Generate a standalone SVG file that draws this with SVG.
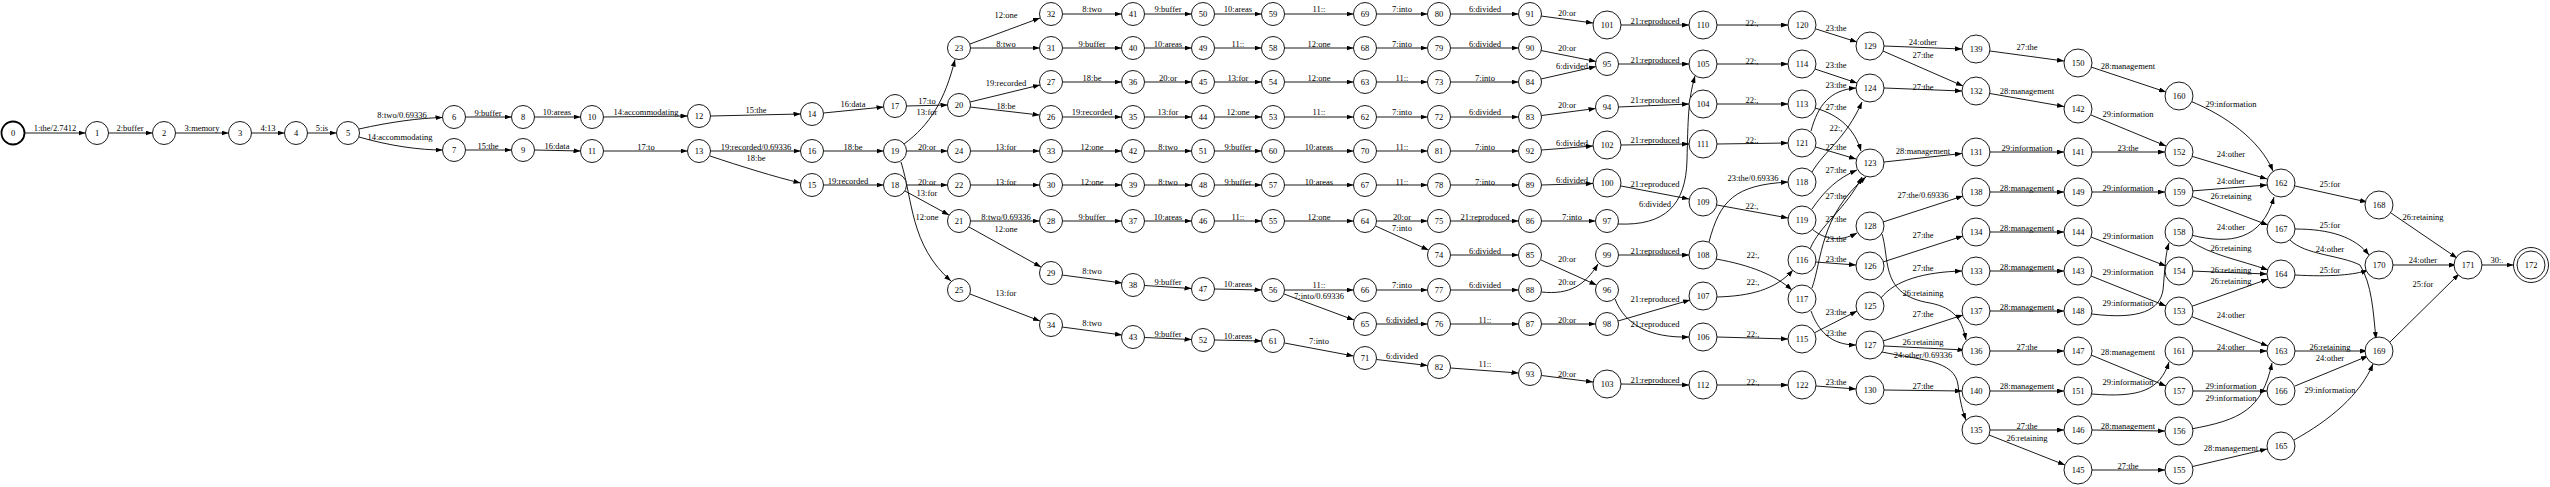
<svg xmlns="http://www.w3.org/2000/svg" width="2550" height="487" viewBox="0 0 2550 487">
<defs>
<marker id="a" markerUnits="userSpaceOnUse" markerWidth="7" markerHeight="5" refX="7" refY="2.5" orient="auto"><path d="M0,0 L7,2.5 L0,5 z" fill="#000"/></marker>
<style>
.e path{fill:none;stroke:#000;stroke-width:0.9;marker-end:url(#a)}
text{font-family:"Liberation Serif","Times New Roman",serif;font-size:8.5px;text-anchor:middle;fill:#000}
.n circle{fill:#fff;stroke:#000;stroke-width:0.9}
</style>
</defs>
<rect width="2550" height="487" fill="#fff"/>
<g id="connectors" class="e">
<path d="M24.5,133 L85.5,133"/><text x="55" y="131">1:the/2.7412</text>
<path d="M108.5,133 L152.5,133"/><text x="130" y="131">2:buffer</text>
<path d="M175.5,133 L228.5,133"/><text x="202" y="131">3:memory</text>
<path d="M251.5,133 L284.5,133"/><text x="268" y="131">4:13</text>
<path d="M307.5,133 L336.5,133"/><text x="322" y="131">5:is</text>
<path d="M359,129 C390,122 420,118 442.5,117.5"/><text x="402" y="118">8:two/0.69336</text>
<path d="M359,137 C390,146 420,150 442.5,150"/><text x="400" y="140">14:accommodating</text>
<path d="M465.5,117 L511.5,117"/><text x="488" y="116">9:buffer</text>
<path d="M465.5,150 L511.5,150"/><text x="488" y="149">15:the</text>
<path d="M534.5,117 L580.5,117"/><text x="557" y="115">10:areas</text>
<path d="M534.5,150 L580.5,151"/><text x="557" y="149">16:data</text>
<path d="M603.5,117 L687.5,116"/><text x="646" y="115">14:accommodating</text>
<path d="M603.5,151 L687.5,151"/><text x="646" y="150">17:to</text>
<path d="M710.5,116 L800.5,114"/><text x="756" y="113">15:the</text>
<path d="M710.5,151 L800.5,151"/><text x="756" y="150">19:recorded/0.69336</text>
<path d="M710,156 C740,166 775,177 800.5,183"/><text x="756" y="161">18:be</text>
<path d="M823.5,113 L883.5,107"/><text x="853" y="107">16:data</text>
<path d="M823.5,151 L883.5,151"/><text x="853" y="150">18:be</text>
<path d="M823.5,185 L883.5,185"/><text x="848" y="184">19:recorded</text>
<path d="M906.5,106 L947.5,105"/><text x="927" y="104">17:to</text>
<path d="M904,144 C930,125 945,100 955,59.5"/><text x="927" y="115">13:for</text>
<path d="M906.5,151 L947.5,151"/><text x="927" y="150">20:or</text>
<path d="M901,162 C913,200 910,245 951,281"/><text x="927" y="220">12:one</text>
<path d="M906.5,185 L947.5,185"/><text x="927" y="185">20:or</text>
<path d="M905,191 L949,215"/><text x="927" y="196">13:for</text>
<path d="M970,44 L1040,18"/><text x="1006" y="18">12:one</text>
<path d="M970.5,48 L1039.5,48"/><text x="1006" y="47">8:two</text>
<path d="M970,102 L1040,85"/><text x="1006" y="86">19:recorded</text>
<path d="M970,107 L1039.5,115"/><text x="1006" y="109">18:be</text>
<path d="M970.5,151 L1039.5,151"/><text x="1006" y="150">13:for</text>
<path d="M970.5,185 L1039.5,185"/><text x="1006" y="185">13:for</text>
<path d="M970.5,221 L1039.5,221"/><text x="1006" y="220">8:two/0.69336</text>
<path d="M969,227 L1041,267"/><text x="1006" y="232">12:one</text>
<path d="M970,294 L1040,321"/><text x="1006" y="296">13:for</text>
<path d="M1062.5,14 L1121.5,14"/><text x="1092" y="12">8:two</text>
<path d="M1062.5,48 L1121.5,48"/><text x="1092" y="47">9:buffer</text>
<path d="M1062.5,82 L1121.5,82"/><text x="1092" y="81">18:be</text>
<path d="M1062.5,117 L1121.5,117"/><text x="1092" y="115">19:recorded</text>
<path d="M1062.5,151 L1121.5,151"/><text x="1092" y="150">12:one</text>
<path d="M1062.5,185 L1121.5,185"/><text x="1092" y="185">12:one</text>
<path d="M1062.5,221 L1121.5,221"/><text x="1092" y="220">9:buffer</text>
<path d="M1062,275 L1122,283"/><text x="1092" y="274">8:two</text>
<path d="M1062,327 L1122,335"/><text x="1092" y="326">8:two</text>
<path d="M1144.5,14 L1191.5,14"/><text x="1168" y="12">9:buffer</text>
<path d="M1144.5,48 L1191.5,48"/><text x="1168" y="47">10:areas</text>
<path d="M1144.5,82 L1191.5,82"/><text x="1168" y="81">20:or</text>
<path d="M1144.5,117 L1191.5,117"/><text x="1168" y="115">13:for</text>
<path d="M1144.5,151 L1191.5,151"/><text x="1168" y="150">8:two</text>
<path d="M1144.5,185 L1191.5,185"/><text x="1168" y="185">8:two</text>
<path d="M1144.5,221 L1191.5,221"/><text x="1168" y="220">10:areas</text>
<path d="M1144.5,285.5 L1191.5,288.5"/><text x="1168" y="285">9:buffer</text>
<path d="M1144.5,337.5 L1191.5,339.5"/><text x="1168" y="337">9:buffer</text>
<path d="M1214.5,14 L1261.5,14"/><text x="1238" y="12">10:areas</text>
<path d="M1214.5,48 L1261.5,48"/><text x="1238" y="47">11::</text>
<path d="M1214.5,82 L1261.5,82"/><text x="1238" y="81">13:for</text>
<path d="M1214.5,117 L1261.5,117"/><text x="1238" y="115">12:one</text>
<path d="M1214.5,151 L1261.5,151"/><text x="1238" y="150">9:buffer</text>
<path d="M1214.5,185 L1261.5,185"/><text x="1238" y="185">9:buffer</text>
<path d="M1214.5,221 L1261.5,221"/><text x="1238" y="220">11::</text>
<path d="M1214.5,289 L1261.5,290"/><text x="1238" y="287">10:areas</text>
<path d="M1214.5,340 L1261.5,341"/><text x="1238" y="339">10:areas</text>
<path d="M1284.5,14 L1353.5,14"/><text x="1319" y="12">11::</text>
<path d="M1284.5,48 L1353.5,48"/><text x="1319" y="47">12:one</text>
<path d="M1284.5,82 L1353.5,82"/><text x="1319" y="81">12:one</text>
<path d="M1284.5,117 L1353.5,117"/><text x="1319" y="115">11::</text>
<path d="M1284.5,151 L1353.5,151"/><text x="1319" y="150">10:areas</text>
<path d="M1284.5,185 L1353.5,185"/><text x="1319" y="185">10:areas</text>
<path d="M1284.5,221 L1353.5,221"/><text x="1319" y="220">12:one</text>
<path d="M1284.5,290 L1353.5,290"/><text x="1319" y="288">11::</text>
<path d="M1284,294 L1354,320"/><text x="1319" y="299">7:into/0.69336</text>
<path d="M1284.5,343 L1353.5,356"/><text x="1319" y="344">7:into</text>
<path d="M1376.5,14 L1427.5,14"/><text x="1402" y="12">7:into</text>
<path d="M1376.5,48 L1427.5,48"/><text x="1402" y="47">7:into</text>
<path d="M1376.5,82 L1427.5,82"/><text x="1402" y="81">11::</text>
<path d="M1376.5,117 L1427.5,117"/><text x="1402" y="115">7:into</text>
<path d="M1376.5,151 L1427.5,151"/><text x="1402" y="150">11::</text>
<path d="M1376.5,185 L1427.5,185"/><text x="1402" y="185">11::</text>
<path d="M1376.5,221 L1427.5,221"/><text x="1402" y="220">20:or</text>
<path d="M1375.5,226 L1428.5,250"/><text x="1402" y="231">7:into</text>
<path d="M1376.5,290 L1427.5,290"/><text x="1402" y="288">7:into</text>
<path d="M1376.5,324 L1427.5,324"/><text x="1402" y="323">6:divided</text>
<path d="M1376.5,359.5 L1427.5,365.5"/><text x="1402" y="359">6:divided</text>
<path d="M1450.5,14 L1518.5,14"/><text x="1485" y="12">6:divided</text>
<path d="M1450.5,48 L1518.5,48"/><text x="1485" y="47">6:divided</text>
<path d="M1450.5,82 L1518.5,82"/><text x="1485" y="81">7:into</text>
<path d="M1450.5,117 L1518.5,117"/><text x="1485" y="115">6:divided</text>
<path d="M1450.5,151 L1518.5,151"/><text x="1485" y="150">7:into</text>
<path d="M1450.5,185 L1518.5,185"/><text x="1485" y="185">7:into</text>
<path d="M1450.5,221 L1518.5,221"/><text x="1485" y="220">21:reproduced</text>
<path d="M1450.5,255 L1518.5,255"/><text x="1485" y="254">6:divided</text>
<path d="M1450.5,290 L1518.5,290"/><text x="1485" y="288">6:divided</text>
<path d="M1450.5,324 L1518.5,324"/><text x="1485" y="323">11::</text>
<path d="M1450.5,368 L1518.5,373"/><text x="1485" y="367">11::</text>
<path d="M1541,16 L1593,23"/><text x="1567" y="16">20:or</text>
<path d="M1541,50.5 L1596,61.5"/><text x="1567" y="51">20:or</text>
<path d="M1541,79 L1596,66.5"/><text x="1572" y="69">6:divided</text>
<path d="M1541.5,115.5 L1595.5,108.5"/><text x="1567" y="108">20:or</text>
<path d="M1541.5,150 L1593,146"/><text x="1572" y="146">6:divided</text>
<path d="M1541.5,185 L1593,183.5"/><text x="1572" y="183">6:divided</text>
<path d="M1541.5,221 L1595.5,221"/><text x="1572" y="220">7:into</text>
<path d="M1541,260 L1596.5,285"/><text x="1567" y="262">20:or</text>
<path d="M1541.5,292 C1570,295 1585,285 1598,264"/><text x="1567" y="285">20:or</text>
<path d="M1541.5,324 L1595.5,324"/><text x="1567" y="323">20:or</text>
<path d="M1541.5,375.5 L1593,382"/><text x="1567" y="377">20:or</text>
<path d="M1621,25 L1689,25"/><text x="1655" y="24">21:reproduced</text>
<path d="M1618.5,64 L1689,64"/><text x="1655" y="63">21:reproduced</text>
<path d="M1618.5,107 L1689,104"/><text x="1655" y="103">21:reproduced</text>
<path d="M1621,145 L1689,144"/><text x="1655" y="143">21:reproduced</text>
<path d="M1621,186 L1689,199"/><text x="1655" y="187">21:reproduced</text>
<path d="M1618,224 C1665,226 1686,205 1687,160 C1688,120 1688,100 1695,76"/><text x="1655" y="207">6:divided</text>
<path d="M1618.5,255 L1689,255"/><text x="1655" y="254">21:reproduced</text>
<path d="M1618,321 L1690,300"/><text x="1655" y="302">21:reproduced</text>
<path d="M1615,299 C1625,325 1650,338 1689,337"/><text x="1655" y="327">21:reproduced</text>
<path d="M1621,384 L1689,385"/><text x="1655" y="383">21:reproduced</text>
<path d="M1717,25 L1788,25"/><text x="1752" y="26">22:,</text>
<path d="M1717,64 L1788,64"/><text x="1752" y="64">22:,</text>
<path d="M1717,104 L1788,104"/><text x="1752" y="103">22:,</text>
<path d="M1717,144 L1788,143"/><text x="1752" y="143">22:,</text>
<path d="M1717,205 L1788,218"/><text x="1752" y="209">22:,</text>
<path d="M1709,242 C1720,200 1735,185 1788,182"/><text x="1753" y="181">23:the/0.69336</text>
<path d="M1716,259 C1750,265 1775,275 1792,290"/><text x="1753" y="258">22:,</text>
<path d="M1717,297 C1750,296 1775,290 1793,270"/><text x="1753" y="285">22:,</text>
<path d="M1717,337 L1788,339"/><text x="1753" y="337">22:,</text>
<path d="M1717,385 L1788,385"/><text x="1753" y="385">22:,</text>
<path d="M1816,29 L1857,42"/><text x="1836" y="31">23:the</text>
<path d="M1815,69 L1857,83"/><text x="1836" y="68">23:the</text>
<path d="M1811,131 C1818,105 1830,90 1856,88"/><text x="1836" y="88">23:the</text>
<path d="M1815,108 C1840,115 1855,130 1861,151"/><text x="1836" y="110">27:the</text>
<path d="M1812,172 C1825,150 1845,140 1862,102"/><text x="1836" y="131">22:,</text>
<path d="M1815.5,147 L1856,159"/><text x="1836" y="150">27:the</text>
<path d="M1812,209 C1825,190 1838,178 1857,170"/><text x="1836" y="173">27:the</text>
<path d="M1810,249 C1820,225 1845,210 1862,177"/><text x="1836" y="199">27:the</text>
<path d="M1812,288 C1822,260 1820,215 1866,177"/><text x="1836" y="222">27:the</text>
<path d="M1812,229 C1825,240 1840,242 1857,233"/><text x="1836" y="242">23:the</text>
<path d="M1815.5,262 L1856,265"/><text x="1836" y="262">23:the</text>
<path d="M1814,333 L1857,311"/><text x="1836" y="315">23:the</text>
<path d="M1811,311 C1818,330 1830,345 1856,345"/><text x="1836" y="336">23:the</text>
<path d="M1816,386 L1856,389"/><text x="1836" y="385">23:the</text>
<path d="M1884,46 L1962,49"/><text x="1923" y="45">24:other</text>
<path d="M1883,51 L1963,86"/><text x="1923" y="58">27:the</text>
<path d="M1884,88 L1962,91"/><text x="1923" y="90">27:the</text>
<path d="M1884,162 L1962,153.5"/><text x="1923" y="154">28:management</text>
<path d="M1883,222 L1963,196"/><text x="1923" y="198">27:the/0.69336</text>
<path d="M1883,262 L1963,236"/><text x="1923" y="238">27:the</text>
<path d="M1881,298 C1895,280 1925,272 1962,271"/><text x="1923" y="271">27:the</text>
<path d="M1882,234 C1890,260 1880,295 1930,303 C1955,308 1962,320 1966,340"/><text x="1923" y="296">26:retaining</text>
<path d="M1883,341 L1963,315"/><text x="1923" y="317">27:the</text>
<path d="M1884,346 L1964.5,350"/><text x="1923" y="345">26:retaining</text>
<path d="M1882,352 C1920,360 1955,360 1958,385 C1960,400 1962,410 1966,420"/><text x="1923" y="358">24:other/0.69336</text>
<path d="M1884,390 L1962,391"/><text x="1923" y="389">27:the</text>
<path d="M1990,51 L2064,61"/><text x="2027" y="50">27:the</text>
<path d="M1990,93.5 L2064,106.5"/><text x="2027" y="94">28:management</text>
<path d="M1990,152 L2064,152"/><text x="2027" y="151">29:information</text>
<path d="M1990,192 L2064,192"/><text x="2027" y="191">28:management</text>
<path d="M1990,232 L2064,232"/><text x="2027" y="231">28:management</text>
<path d="M1990,271 L2064,271"/><text x="2027" y="270">28:management</text>
<path d="M1990,311 L2064,311"/><text x="2027" y="310">28:management</text>
<path d="M1990,351 L2064,351"/><text x="2027" y="350">27:the</text>
<path d="M1990,391 L2064,391"/><text x="2027" y="389">28:management</text>
<path d="M1990,430 L2064,430"/><text x="2027" y="429">27:the</text>
<path d="M1989,435 L2065,465"/><text x="2027" y="441">26:retaining</text>
<path d="M2091,67 L2166,92"/><text x="2128" y="69">28:management</text>
<path d="M2091,115 L2166,146"/><text x="2128" y="117">29:information</text>
<path d="M2092,152 L2165,152"/><text x="2128" y="151">23:the</text>
<path d="M2092,192 L2165,192"/><text x="2128" y="191">29:information</text>
<path d="M2091,237 L2166,266"/><text x="2128" y="239">29:information</text>
<path d="M2091,276 L2166,306"/><text x="2128" y="275">29:information</text>
<path d="M2092,314 C2140,320 2160,310 2163,290 C2165,270 2165,255 2169,243"/><text x="2128" y="306">29:information</text>
<path d="M2091,355 L2166,386"/><text x="2128" y="355">28:management</text>
<path d="M2092,394 C2140,398 2160,390 2169,362"/><text x="2128" y="385">29:information</text>
<path d="M2092,430 L2165,431"/><text x="2128" y="429">28:management</text>
<path d="M2092,470 L2165,470"/><text x="2128" y="469">27:the</text>
<path d="M2190,101 C2225,115 2260,140 2273,171"/><text x="2231" y="107">29:information</text>
<path d="M2191,156 L2267,179"/><text x="2231" y="157">24:other</text>
<path d="M2191,191 L2267,185"/><text x="2231" y="184">24:other</text>
<path d="M2191,196 L2268,225"/><text x="2231" y="199">26:retaining</text>
<path d="M2191,235 C2230,245 2262,240 2274,197"/><text x="2231" y="230">24:other</text>
<path d="M2189,240 C2210,255 2240,260 2268,270"/><text x="2231" y="251">26:retaining</text>
<path d="M2190.5,271 L2267,274"/><text x="2231" y="273">26:retaining</text>
<path d="M2190,307 L2268,279"/><text x="2231" y="284">26:retaining</text>
<path d="M2190,316 L2268,346"/><text x="2231" y="318">24:other</text>
<path d="M2190.5,351 L2267,351"/><text x="2231" y="350">24:other</text>
<path d="M2190.5,391 L2267,391"/><text x="2231" y="389">29:information</text>
<path d="M2191,429 C2240,420 2262,410 2272,363"/><text x="2231" y="401">29:information</text>
<path d="M2190.5,467 L2267,449"/><text x="2231" y="451">28:management</text>
<path d="M2295,186 L2367,202"/><text x="2330" y="187">25:for</text>
<path d="M2295,229 C2330,229 2355,237 2369,255"/><text x="2330" y="228">25:for</text>
<path d="M2290,240 C2305,255 2340,255 2360,265 C2372,285 2373,310 2376,339"/><text x="2330" y="252">24:other</text>
<path d="M2295,275 C2330,277 2355,275 2368,270"/><text x="2330" y="273">25:for</text>
<path d="M2295,351 L2367,351"/><text x="2330" y="350">26:retaining</text>
<path d="M2295,386 L2368,356"/><text x="2330" y="361">24:other</text>
<path d="M2294,440 C2330,420 2360,395 2373,364"/><text x="2330" y="393">29:information</text>
<path d="M2391,213 L2457,258"/><text x="2423" y="220">26:retaining</text>
<path d="M2391,265 L2456,265"/><text x="2423" y="263">24:other</text>
<path d="M2389,343 L2459,274"/><text x="2423" y="287">25:for</text>
<path d="M2480,265 L2513.5,265"/><text x="2497" y="263">30:.</text>
</g>
<g class="n">
<g id="n0"><circle cx="13" cy="133" r="11.5" style="stroke-width:1.8"/><text x="13" y="136">0</text></g>
<g id="n1"><circle cx="97" cy="133" r="11.5"/><text x="97" y="136">1</text></g>
<g id="n2"><circle cx="164" cy="133" r="11.5"/><text x="164" y="136">2</text></g>
<g id="n3"><circle cx="240" cy="133" r="11.5"/><text x="240" y="136">3</text></g>
<g id="n4"><circle cx="296" cy="133" r="11.5"/><text x="296" y="136">4</text></g>
<g id="n5"><circle cx="348" cy="133" r="11.5"/><text x="348" y="136">5</text></g>
<g id="n6"><circle cx="454" cy="117" r="11.5"/><text x="454" y="120">6</text></g>
<g id="n7"><circle cx="454" cy="150" r="11.5"/><text x="454" y="153">7</text></g>
<g id="n8"><circle cx="523" cy="117" r="11.5"/><text x="523" y="120">8</text></g>
<g id="n9"><circle cx="523" cy="150" r="11.5"/><text x="523" y="153">9</text></g>
<g id="n10"><circle cx="592" cy="117" r="11.5"/><text x="592" y="120">10</text></g>
<g id="n11"><circle cx="592" cy="151" r="11.5"/><text x="592" y="154">11</text></g>
<g id="n12"><circle cx="699" cy="116" r="11.5"/><text x="699" y="119">12</text></g>
<g id="n13"><circle cx="699" cy="151" r="11.5"/><text x="699" y="154">13</text></g>
<g id="n14"><circle cx="812" cy="114" r="11.5"/><text x="812" y="117">14</text></g>
<g id="n15"><circle cx="812" cy="185" r="11.5"/><text x="812" y="188">15</text></g>
<g id="n16"><circle cx="812" cy="151" r="11.5"/><text x="812" y="154">16</text></g>
<g id="n17"><circle cx="895" cy="106" r="11.5"/><text x="895" y="109">17</text></g>
<g id="n18"><circle cx="895" cy="185" r="11.5"/><text x="895" y="188">18</text></g>
<g id="n19"><circle cx="895" cy="151" r="11.5"/><text x="895" y="154">19</text></g>
<g id="n20"><circle cx="959" cy="105" r="11.5"/><text x="959" y="108">20</text></g>
<g id="n21"><circle cx="959" cy="221" r="11.5"/><text x="959" y="224">21</text></g>
<g id="n22"><circle cx="959" cy="185" r="11.5"/><text x="959" y="188">22</text></g>
<g id="n23"><circle cx="959" cy="48" r="11.5"/><text x="959" y="51">23</text></g>
<g id="n24"><circle cx="959" cy="151" r="11.5"/><text x="959" y="154">24</text></g>
<g id="n25"><circle cx="959" cy="290" r="11.5"/><text x="959" y="293">25</text></g>
<g id="n26"><circle cx="1051" cy="117" r="11.5"/><text x="1051" y="120">26</text></g>
<g id="n27"><circle cx="1051" cy="82" r="11.5"/><text x="1051" y="85">27</text></g>
<g id="n28"><circle cx="1051" cy="221" r="11.5"/><text x="1051" y="224">28</text></g>
<g id="n29"><circle cx="1051" cy="273" r="11.5"/><text x="1051" y="276">29</text></g>
<g id="n30"><circle cx="1051" cy="185" r="11.5"/><text x="1051" y="188">30</text></g>
<g id="n31"><circle cx="1051" cy="48" r="11.5"/><text x="1051" y="51">31</text></g>
<g id="n32"><circle cx="1051" cy="14" r="11.5"/><text x="1051" y="17">32</text></g>
<g id="n33"><circle cx="1051" cy="151" r="11.5"/><text x="1051" y="154">33</text></g>
<g id="n34"><circle cx="1051" cy="325" r="11.5"/><text x="1051" y="328">34</text></g>
<g id="n35"><circle cx="1133" cy="117" r="11.5"/><text x="1133" y="120">35</text></g>
<g id="n36"><circle cx="1133" cy="82" r="11.5"/><text x="1133" y="85">36</text></g>
<g id="n37"><circle cx="1133" cy="221" r="11.5"/><text x="1133" y="224">37</text></g>
<g id="n38"><circle cx="1133" cy="285" r="11.5"/><text x="1133" y="288">38</text></g>
<g id="n39"><circle cx="1133" cy="185" r="11.5"/><text x="1133" y="188">39</text></g>
<g id="n40"><circle cx="1133" cy="48" r="11.5"/><text x="1133" y="51">40</text></g>
<g id="n41"><circle cx="1133" cy="14" r="11.5"/><text x="1133" y="17">41</text></g>
<g id="n42"><circle cx="1133" cy="151" r="11.5"/><text x="1133" y="154">42</text></g>
<g id="n43"><circle cx="1133" cy="337" r="11.5"/><text x="1133" y="340">43</text></g>
<g id="n44"><circle cx="1203" cy="117" r="11.5"/><text x="1203" y="120">44</text></g>
<g id="n45"><circle cx="1203" cy="82" r="11.5"/><text x="1203" y="85">45</text></g>
<g id="n46"><circle cx="1203" cy="221" r="11.5"/><text x="1203" y="224">46</text></g>
<g id="n47"><circle cx="1203" cy="289" r="11.5"/><text x="1203" y="292">47</text></g>
<g id="n48"><circle cx="1203" cy="185" r="11.5"/><text x="1203" y="188">48</text></g>
<g id="n49"><circle cx="1203" cy="48" r="11.5"/><text x="1203" y="51">49</text></g>
<g id="n50"><circle cx="1203" cy="14" r="11.5"/><text x="1203" y="17">50</text></g>
<g id="n51"><circle cx="1203" cy="151" r="11.5"/><text x="1203" y="154">51</text></g>
<g id="n52"><circle cx="1203" cy="340" r="11.5"/><text x="1203" y="343">52</text></g>
<g id="n53"><circle cx="1273" cy="117" r="11.5"/><text x="1273" y="120">53</text></g>
<g id="n54"><circle cx="1273" cy="82" r="11.5"/><text x="1273" y="85">54</text></g>
<g id="n55"><circle cx="1273" cy="221" r="11.5"/><text x="1273" y="224">55</text></g>
<g id="n56"><circle cx="1273" cy="290" r="11.5"/><text x="1273" y="293">56</text></g>
<g id="n57"><circle cx="1273" cy="185" r="11.5"/><text x="1273" y="188">57</text></g>
<g id="n58"><circle cx="1273" cy="48" r="11.5"/><text x="1273" y="51">58</text></g>
<g id="n59"><circle cx="1273" cy="14" r="11.5"/><text x="1273" y="17">59</text></g>
<g id="n60"><circle cx="1273" cy="151" r="11.5"/><text x="1273" y="154">60</text></g>
<g id="n61"><circle cx="1273" cy="341" r="11.5"/><text x="1273" y="344">61</text></g>
<g id="n62"><circle cx="1365" cy="117" r="11.5"/><text x="1365" y="120">62</text></g>
<g id="n63"><circle cx="1365" cy="82" r="11.5"/><text x="1365" y="85">63</text></g>
<g id="n64"><circle cx="1365" cy="221" r="11.5"/><text x="1365" y="224">64</text></g>
<g id="n65"><circle cx="1365" cy="324" r="11.5"/><text x="1365" y="327">65</text></g>
<g id="n66"><circle cx="1365" cy="290" r="11.5"/><text x="1365" y="293">66</text></g>
<g id="n67"><circle cx="1365" cy="185" r="11.5"/><text x="1365" y="188">67</text></g>
<g id="n68"><circle cx="1365" cy="48" r="11.5"/><text x="1365" y="51">68</text></g>
<g id="n69"><circle cx="1365" cy="14" r="11.5"/><text x="1365" y="17">69</text></g>
<g id="n70"><circle cx="1365" cy="151" r="11.5"/><text x="1365" y="154">70</text></g>
<g id="n71"><circle cx="1365" cy="358" r="11.5"/><text x="1365" y="361">71</text></g>
<g id="n72"><circle cx="1439" cy="117" r="11.5"/><text x="1439" y="120">72</text></g>
<g id="n73"><circle cx="1439" cy="82" r="11.5"/><text x="1439" y="85">73</text></g>
<g id="n74"><circle cx="1439" cy="255" r="11.5"/><text x="1439" y="258">74</text></g>
<g id="n75"><circle cx="1439" cy="221" r="11.5"/><text x="1439" y="224">75</text></g>
<g id="n76"><circle cx="1439" cy="324" r="11.5"/><text x="1439" y="327">76</text></g>
<g id="n77"><circle cx="1439" cy="290" r="11.5"/><text x="1439" y="293">77</text></g>
<g id="n78"><circle cx="1439" cy="185" r="11.5"/><text x="1439" y="188">78</text></g>
<g id="n79"><circle cx="1439" cy="48" r="11.5"/><text x="1439" y="51">79</text></g>
<g id="n80"><circle cx="1439" cy="14" r="11.5"/><text x="1439" y="17">80</text></g>
<g id="n81"><circle cx="1439" cy="151" r="11.5"/><text x="1439" y="154">81</text></g>
<g id="n82"><circle cx="1439" cy="367" r="11.5"/><text x="1439" y="370">82</text></g>
<g id="n83"><circle cx="1530" cy="117" r="11.5"/><text x="1530" y="120">83</text></g>
<g id="n84"><circle cx="1530" cy="82" r="11.5"/><text x="1530" y="85">84</text></g>
<g id="n85"><circle cx="1530" cy="255" r="11.5"/><text x="1530" y="258">85</text></g>
<g id="n86"><circle cx="1530" cy="221" r="11.5"/><text x="1530" y="224">86</text></g>
<g id="n87"><circle cx="1530" cy="324" r="11.5"/><text x="1530" y="327">87</text></g>
<g id="n88"><circle cx="1530" cy="290" r="11.5"/><text x="1530" y="293">88</text></g>
<g id="n89"><circle cx="1530" cy="185" r="11.5"/><text x="1530" y="188">89</text></g>
<g id="n90"><circle cx="1530" cy="48" r="11.5"/><text x="1530" y="51">90</text></g>
<g id="n91"><circle cx="1530" cy="14" r="11.5"/><text x="1530" y="17">91</text></g>
<g id="n92"><circle cx="1530" cy="151" r="11.5"/><text x="1530" y="154">92</text></g>
<g id="n93"><circle cx="1530" cy="374" r="11.5"/><text x="1530" y="377">93</text></g>
<g id="n94"><circle cx="1607" cy="107" r="11.5"/><text x="1607" y="110">94</text></g>
<g id="n95"><circle cx="1607" cy="64" r="11.5"/><text x="1607" y="67">95</text></g>
<g id="n96"><circle cx="1607" cy="290" r="11.5"/><text x="1607" y="293">96</text></g>
<g id="n97"><circle cx="1607" cy="221" r="11.5"/><text x="1607" y="224">97</text></g>
<g id="n98"><circle cx="1607" cy="324" r="11.5"/><text x="1607" y="327">98</text></g>
<g id="n99"><circle cx="1607" cy="255" r="11.5"/><text x="1607" y="258">99</text></g>
<g id="n100"><circle cx="1607" cy="183" r="14"/><text x="1607" y="186">100</text></g>
<g id="n101"><circle cx="1607" cy="25" r="14"/><text x="1607" y="28">101</text></g>
<g id="n102"><circle cx="1607" cy="145" r="14"/><text x="1607" y="148">102</text></g>
<g id="n103"><circle cx="1607" cy="384" r="14"/><text x="1607" y="387">103</text></g>
<g id="n104"><circle cx="1703" cy="104" r="14"/><text x="1703" y="107">104</text></g>
<g id="n105"><circle cx="1703" cy="64" r="14"/><text x="1703" y="67">105</text></g>
<g id="n106"><circle cx="1703" cy="337" r="14"/><text x="1703" y="340">106</text></g>
<g id="n107"><circle cx="1703" cy="296" r="14"/><text x="1703" y="299">107</text></g>
<g id="n108"><circle cx="1703" cy="255" r="14"/><text x="1703" y="258">108</text></g>
<g id="n109"><circle cx="1703" cy="202" r="14"/><text x="1703" y="205">109</text></g>
<g id="n110"><circle cx="1703" cy="25" r="14"/><text x="1703" y="28">110</text></g>
<g id="n111"><circle cx="1703" cy="144" r="14"/><text x="1703" y="147">111</text></g>
<g id="n112"><circle cx="1703" cy="385" r="14"/><text x="1703" y="388">112</text></g>
<g id="n113"><circle cx="1802" cy="104" r="14"/><text x="1802" y="107">113</text></g>
<g id="n114"><circle cx="1802" cy="64" r="14"/><text x="1802" y="67">114</text></g>
<g id="n115"><circle cx="1802" cy="339" r="14"/><text x="1802" y="342">115</text></g>
<g id="n116"><circle cx="1802" cy="260" r="14"/><text x="1802" y="263">116</text></g>
<g id="n117"><circle cx="1802" cy="299" r="14"/><text x="1802" y="302">117</text></g>
<g id="n118"><circle cx="1802" cy="182" r="14"/><text x="1802" y="185">118</text></g>
<g id="n119"><circle cx="1802" cy="220" r="14"/><text x="1802" y="223">119</text></g>
<g id="n120"><circle cx="1802" cy="25" r="14"/><text x="1802" y="28">120</text></g>
<g id="n121"><circle cx="1802" cy="143" r="14"/><text x="1802" y="146">121</text></g>
<g id="n122"><circle cx="1802" cy="385" r="14"/><text x="1802" y="388">122</text></g>
<g id="n123"><circle cx="1870" cy="163" r="14"/><text x="1870" y="166">123</text></g>
<g id="n124"><circle cx="1870" cy="88" r="14"/><text x="1870" y="91">124</text></g>
<g id="n125"><circle cx="1870" cy="306" r="14"/><text x="1870" y="309">125</text></g>
<g id="n126"><circle cx="1870" cy="266" r="14"/><text x="1870" y="269">126</text></g>
<g id="n127"><circle cx="1870" cy="345" r="14"/><text x="1870" y="348">127</text></g>
<g id="n128"><circle cx="1870" cy="226" r="14"/><text x="1870" y="229">128</text></g>
<g id="n129"><circle cx="1870" cy="46" r="14"/><text x="1870" y="49">129</text></g>
<g id="n130"><circle cx="1870" cy="390" r="14"/><text x="1870" y="393">130</text></g>
<g id="n131"><circle cx="1976" cy="152" r="14"/><text x="1976" y="155">131</text></g>
<g id="n132"><circle cx="1976" cy="91" r="14"/><text x="1976" y="94">132</text></g>
<g id="n133"><circle cx="1976" cy="271" r="14"/><text x="1976" y="274">133</text></g>
<g id="n134"><circle cx="1976" cy="232" r="14"/><text x="1976" y="235">134</text></g>
<g id="n135"><circle cx="1976" cy="430" r="14"/><text x="1976" y="433">135</text></g>
<g id="n136"><circle cx="1976" cy="351" r="14"/><text x="1976" y="354">136</text></g>
<g id="n137"><circle cx="1976" cy="311" r="14"/><text x="1976" y="314">137</text></g>
<g id="n138"><circle cx="1976" cy="192" r="14"/><text x="1976" y="195">138</text></g>
<g id="n139"><circle cx="1976" cy="49" r="14"/><text x="1976" y="52">139</text></g>
<g id="n140"><circle cx="1976" cy="391" r="14"/><text x="1976" y="394">140</text></g>
<g id="n141"><circle cx="2078" cy="152" r="14"/><text x="2078" y="155">141</text></g>
<g id="n142"><circle cx="2078" cy="109" r="14"/><text x="2078" y="112">142</text></g>
<g id="n143"><circle cx="2078" cy="271" r="14"/><text x="2078" y="274">143</text></g>
<g id="n144"><circle cx="2078" cy="232" r="14"/><text x="2078" y="235">144</text></g>
<g id="n145"><circle cx="2078" cy="470" r="14"/><text x="2078" y="473">145</text></g>
<g id="n146"><circle cx="2078" cy="430" r="14"/><text x="2078" y="433">146</text></g>
<g id="n147"><circle cx="2078" cy="351" r="14"/><text x="2078" y="354">147</text></g>
<g id="n148"><circle cx="2078" cy="311" r="14"/><text x="2078" y="314">148</text></g>
<g id="n149"><circle cx="2078" cy="192" r="14"/><text x="2078" y="195">149</text></g>
<g id="n150"><circle cx="2078" cy="63" r="14"/><text x="2078" y="66">150</text></g>
<g id="n151"><circle cx="2078" cy="391" r="14"/><text x="2078" y="394">151</text></g>
<g id="n152"><circle cx="2179" cy="152" r="14"/><text x="2179" y="155">152</text></g>
<g id="n153"><circle cx="2179" cy="311" r="14"/><text x="2179" y="314">153</text></g>
<g id="n154"><circle cx="2179" cy="271" r="14"/><text x="2179" y="274">154</text></g>
<g id="n155"><circle cx="2179" cy="470" r="14"/><text x="2179" y="473">155</text></g>
<g id="n156"><circle cx="2179" cy="431" r="14"/><text x="2179" y="434">156</text></g>
<g id="n157"><circle cx="2179" cy="391" r="14"/><text x="2179" y="394">157</text></g>
<g id="n158"><circle cx="2179" cy="232" r="14"/><text x="2179" y="235">158</text></g>
<g id="n159"><circle cx="2179" cy="192" r="14"/><text x="2179" y="195">159</text></g>
<g id="n160"><circle cx="2179" cy="96" r="14"/><text x="2179" y="99">160</text></g>
<g id="n161"><circle cx="2179" cy="351" r="14"/><text x="2179" y="354">161</text></g>
<g id="n162"><circle cx="2281" cy="183" r="14"/><text x="2281" y="186">162</text></g>
<g id="n163"><circle cx="2281" cy="351" r="14"/><text x="2281" y="354">163</text></g>
<g id="n164"><circle cx="2281" cy="274" r="14"/><text x="2281" y="277">164</text></g>
<g id="n165"><circle cx="2281" cy="446" r="14"/><text x="2281" y="449">165</text></g>
<g id="n166"><circle cx="2281" cy="391" r="14"/><text x="2281" y="394">166</text></g>
<g id="n167"><circle cx="2281" cy="229" r="14"/><text x="2281" y="232">167</text></g>
<g id="n168"><circle cx="2379" cy="205" r="14"/><text x="2379" y="208">168</text></g>
<g id="n169"><circle cx="2379" cy="351" r="14"/><text x="2379" y="354">169</text></g>
<g id="n170"><circle cx="2379" cy="265" r="14"/><text x="2379" y="268">170</text></g>
<g id="n171"><circle cx="2468" cy="265" r="14"/><text x="2468" y="268">171</text></g>
<g id="n172"><circle cx="2531" cy="265" r="17.5"/><circle cx="2531" cy="265" r="14"/><text x="2531" y="268">172</text></g>
</g>
</svg>
